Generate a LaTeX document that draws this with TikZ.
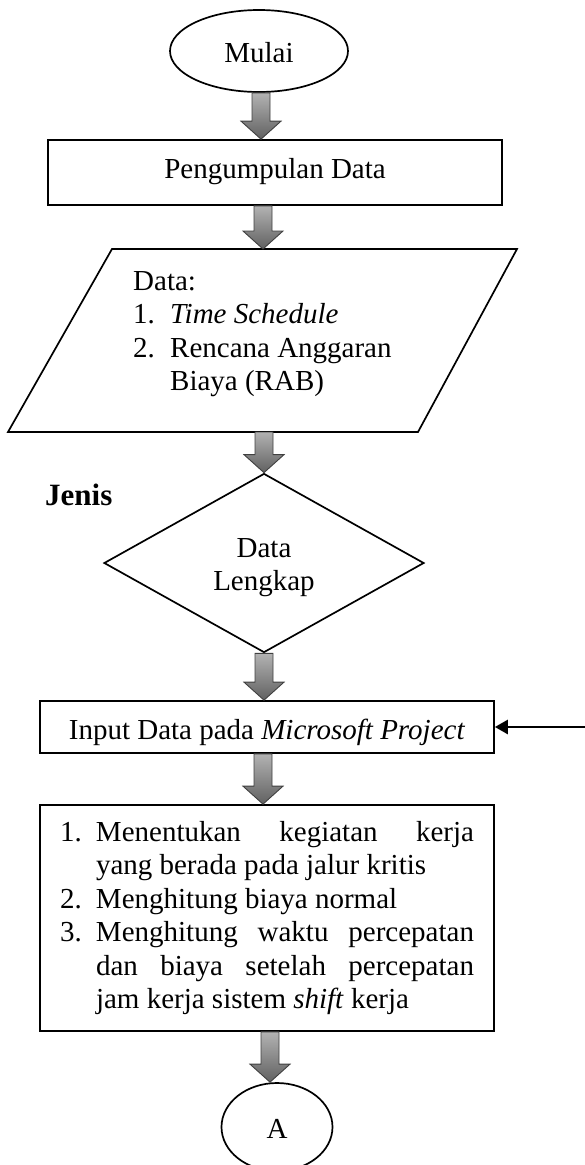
\documentclass[tikz,border=0pt]{standalone}
\usepackage{fontspec}
\setmainfont{Liberation Serif}
\usetikzlibrary{shapes.geometric,arrows.meta,calc}
\newcommand{\blockarr}[3]{%
  \path[barrow] let \p1=(#1), \p2=(#2) in
    (#3pt-9pt,\y1) -- (#3pt+9pt,\y1) -- (#3pt+9pt,\y2+18pt) -- (#3pt+20pt,\y2+18pt)
    -- (#3pt,\y2) -- (#3pt-20pt,\y2+18pt) -- (#3pt-9pt,\y2+18pt) -- cycle;}
\begin{document}
\begin{tikzpicture}[x=1pt,y=-1pt,
  txt/.style={font=\fontsize{29}{33.4}\selectfont},
  outline/.style={draw=black, line width=1.7pt},
  barrow/.style={draw=black!75, line width=0.9pt, top color=black!30, bottom color=black!62},
  plainarrow/.style={line width=2.6pt, -{Triangle[length=13pt,width=14pt]}}]
\useasboundingbox (0,0) rectangle (585,1165);
\clip (0,0) rectangle (585,1165);

\node[outline, ellipse, minimum width=178pt, minimum height=82pt, inner sep=0pt, txt,
      text height=28pt, text depth=6pt] (mulai) at (259,51) {Mulai};

\node[outline, rectangle, minimum width=454pt, minimum height=65pt, inner sep=0pt, txt,
      text height=20pt, text depth=9pt] (pd) at (275,172.5) {Pengumpulan Data};

\coordinate (p1) at (112,249);
\coordinate (p2) at (517,249);
\coordinate (p3) at (418,432);
\coordinate (p4) at (8,432);
\coordinate (ptop) at (263,249);
\coordinate (pbot) at (264,432);
\draw[outline, line join=miter] (p1) -- (p2) -- (p3) -- (p4) -- cycle;
\node[txt, anchor=north west, inner sep=0pt] (datatxt) at (133,270)
  {\parbox[t]{330pt}{\rule{0pt}{20pt}Data:\\
   \makebox[37pt][l]{1.}\textit{Time Schedule}\\
   \makebox[37pt][l]{2.}Rencana Anggaran\\
   \hspace*{37pt}Biaya (RAB)}};

\node[anchor=base west, inner sep=0pt, font=\fontsize{31}{36}\selectfont\bfseries] (jenis) at (45,505) {Jenis};

\node[outline, diamond, minimum width=320pt, minimum height=179pt, inner sep=0pt, txt,
      align=center] (dl) at (264,563) {\rule{0pt}{28pt}Data\\Lengkap};

\node[outline, rectangle, minimum width=454pt, minimum height=52pt, inner sep=0pt, txt,
      text height=30pt, text depth=6pt] (inp) at (267,727) {Input Data pada \textit{Microsoft Project}};

\node[outline, rectangle, minimum width=454pt, minimum height=226pt, inner sep=0pt, txt]
  (steps) at (267,918)
  {\parbox{414pt}{%
   \hangindent=36pt \hangafter=1 \makebox[36pt][l]{1.}Menentukan kegiatan kerja\linebreak yang berada pada jalur kritis\par
   \makebox[36pt][l]{2.}Menghitung biaya normal\par
   \hangindent=36pt \hangafter=1 \makebox[36pt][l]{3.}Menghitung waktu percepatan\linebreak dan biaya setelah percepatan\linebreak jam kerja sistem \textit{shift} kerja}};

\node[outline, ellipse, minimum width=111pt, minimum height=88pt, inner sep=0pt, txt,
      text height=28pt, text depth=6pt] (a) at (277,1127) {A};

\blockarr{mulai.south}{pd.north}{261}
\blockarr{pd.south}{ptop}{263}
\blockarr{pbot}{dl.north}{264}
\blockarr{dl.south}{inp.north}{264}
\blockarr{inp.south}{steps.north}{263}
\blockarr{steps.south}{a.north}{270}

\coordinate (rin) at (585,727);
\draw[plainarrow] (rin) -- (inp.east);
\end{tikzpicture}
\end{document}
